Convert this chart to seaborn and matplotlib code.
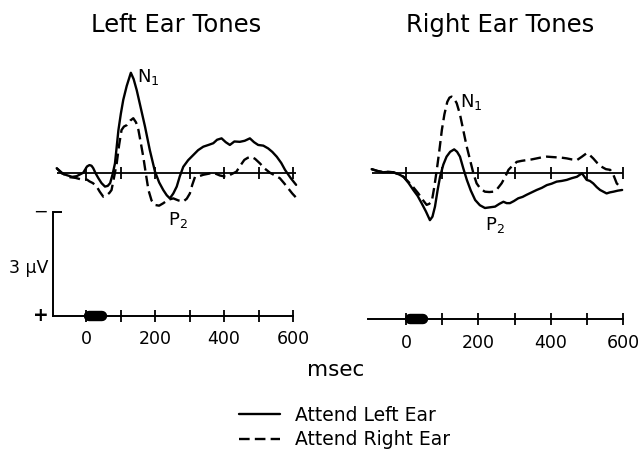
import matplotlib
matplotlib.use("Agg")
import matplotlib.pyplot as plt
import pandas as pd
import seaborn as sns

sns.set_theme(style="white")
plt.rcParams["font.family"] = ["DejaVu Sans"]
plt.rcParams["mathtext.fontset"] = "dejavusans"
plt.rcParams["text.color"] = "black"

# ---- ERP waveforms (microvolts, negative plotted upward) ----
CONDITIONS = ["Attend Left Ear", "Attend Right Ear"]
PANEL_TITLES = ["Left Ear Tones", "Right Ear Tones"]

left_t_attend_left = [-85, -70, -56, -40, -27, -8, 3, 10, 16, 21, 28, 36, 45, 55, 63,
                      70, 77, 84, 89, 94, 101, 108, 118, 130, 138, 147, 158, 171, 185, 200,
                      212, 224, 234, 243, 253, 263, 272, 282, 296, 311, 325, 340, 355, 369, 380,
                      393, 405, 417, 430, 446, 460, 475, 487, 499, 514, 528, 540, 553, 566, 577,
                      593, 609]
left_uv_attend_left = [-0.13, 0.02, 0.07, 0.12, 0.10, 0.0, -0.18, -0.22, -0.2, -0.13,
                       0.02, 0.16, 0.3, 0.4, 0.38, 0.3, 0.05, -0.27, -0.75, -1.23,
                       -1.7, -2.1, -2.5, -2.88, -2.7, -2.38, -1.9, -1.33, -0.65, -0.03,
                       0.28, 0.5, 0.65, 0.74, 0.6, 0.4, 0.1, -0.17, -0.36, -0.51,
                       -0.65, -0.75, -0.8, -0.85, -0.95, -0.99, -0.88, -0.8, -0.9, -0.89,
                       -0.92, -0.99, -0.88, -0.8, -0.78, -0.7, -0.6, -0.46, -0.28, -0.08,
                       0.15, 0.35]

left_t_attend_right = [-85, -70, -56, -46, -30, -8, 3, 10, 20, 31, 40, 50, 60, 68, 74,
                       80, 89, 96, 103, 110, 118, 128, 137, 145, 152, 159, 166, 173, 181, 190,
                       200, 212, 224, 238, 253, 268, 282, 292, 301, 308, 316, 328, 340, 355, 369,
                       388, 407, 420, 436, 447, 459, 469, 479, 490, 504, 518, 533, 548, 562, 574,
                       586, 598, 611]
left_uv_attend_right = [-0.13, 0.0, 0.1, 0.13, 0.15, 0.21, 0.2, 0.25, 0.3, 0.4,
                        0.55, 0.69, 0.65, 0.58, 0.5, 0.2, -0.27, -0.8, -1.23, -1.33,
                        -1.37, -1.5, -1.57, -1.45, -1.23, -0.85, -0.46, 0.0, 0.5, 0.8,
                        0.93, 0.95, 0.88, 0.78, 0.74, 0.8, 0.83, 0.75, 0.6, 0.35,
                        0.12, 0.1, 0.06, 0.03, 0.0, 0.08, 0.12, 0.05, -0.03, -0.2,
                        -0.37, -0.43, -0.46, -0.4, -0.27, -0.12, 0.0, 0.08, 0.16, 0.3,
                        0.45, 0.6, 0.74]

right_t_attend_left = [-95, -80, -63, -50, -35, -20, -7, 7, 20, 32, 43, 55, 66, 73, 80,
                       87, 94, 103, 112, 122, 133, 141, 149, 158, 168, 179, 191, 204, 218, 232,
                       246, 258, 269, 278, 287, 298, 310, 322, 333, 347, 361, 375, 389, 402, 416,
                       430, 444, 458, 472, 486, 499, 508, 517, 527, 536, 545, 554, 563, 573, 585,
                       597]
right_uv_attend_left = [-0.12, -0.07, -0.03, -0.04, -0.03, 0.03, 0.1, 0.28, 0.48, 0.65,
                        0.86, 1.1, 1.35, 1.25, 0.96, 0.5, 0.1, -0.25, -0.48, -0.62,
                        -0.69, -0.62, -0.48, -0.15, 0.19, 0.5, 0.77, 0.92, 1.0, 0.98,
                        0.96, 0.88, 0.82, 0.86, 0.86, 0.8, 0.72, 0.68, 0.62, 0.55,
                        0.48, 0.42, 0.34, 0.3, 0.24, 0.22, 0.19, 0.14, 0.1, 0.0,
                        0.19, 0.22, 0.29, 0.4, 0.48, 0.53, 0.58, 0.55, 0.53, 0.5,
                        0.48]

right_t_attend_right = [-95, -80, -63, -50, -35, -20, -7, 7, 20, 34, 45, 57, 64, 71, 78,
                        85, 92, 99, 106, 114, 120, 126, 133, 140, 149, 158, 167, 177, 186, 195,
                        206, 218, 230, 241, 252, 264, 274, 283, 294, 306, 320, 333, 347, 361, 375,
                        389, 402, 416, 430, 444, 458, 472, 486, 499, 508, 517, 528, 540, 552, 564,
                        573, 582, 592]
right_uv_attend_right = [-0.12, -0.07, -0.03, -0.04, -0.03, 0.03, 0.1, 0.25, 0.4, 0.58,
                         0.75, 0.91, 0.88, 0.82, 0.4, -0.1, -0.65, -1.25, -1.7, -2.06,
                         -2.18, -2.21, -2.15, -2.02, -1.7, -1.25, -0.8, -0.38, 0.0, 0.29,
                         0.45, 0.53, 0.54, 0.53, 0.45, 0.29, 0.1, -0.1, -0.22, -0.33,
                         -0.36, -0.38, -0.4, -0.43, -0.46, -0.48, -0.47, -0.46, -0.45, -0.43,
                         -0.4, -0.38, -0.48, -0.58, -0.52, -0.43, -0.3, -0.19, -0.12, -0.1,
                         0.05, 0.29, 0.4]

# time axis
time_ticks = [0, 100, 200, 300, 400, 500, 600]
time_labels = [0, 200, 400, 600]
tone_span = [10, 46]          # stimulus marker (ms)
calibration_uv = 3.0          # size of the amplitude calibration bar


def waveform_frame(t_a, v_a, t_b, v_b):
    parts = []
    for cond, t, v in zip(CONDITIONS, (t_a, t_b), (v_a, v_b)):
        parts.append(pd.DataFrame({"msec": t, "uV": v, "condition": cond}))
    return pd.concat(parts, ignore_index=True)


panels = [
    dict(df=waveform_frame(left_t_attend_left, left_uv_attend_left,
                           left_t_attend_right, left_uv_attend_right),
         rect=[51.5 / 642, 1 - 332.3 / 451, 248.4 / 642, 284.5 / 451],
         xlim=(-100, 620), axis_uv=4.13, axis_start=-95, base=(-85, 608),
         n1=(148, -2.62), p2=(238, 1.51)),
    dict(df=waveform_frame(right_t_attend_left, right_uv_attend_left,
                           right_t_attend_right, right_uv_attend_right),
         rect=[366.2 / 642, 1 - 332.9 / 451, 267.9 / 642, 284.5 / 451],
         xlim=(-110, 630), axis_uv=4.21, axis_start=-104, base=(-95, 600),
         n1=(149, -1.91), p2=(218, 1.63)),
]

dash_map = {"Attend Left Ear": "", "Attend Right Ear": (4.5, 2.2)}

fig = plt.figure(figsize=(6.42, 4.51), dpi=100)
fig.patch.set_facecolor("white")

axes = []
for i, p in enumerate(panels):
    ax = fig.add_axes(p["rect"])
    ax.set_facecolor("none")
    sns.lineplot(data=p["df"], x="msec", y="uV", style="condition",
                 style_order=CONDITIONS, dashes=dash_map, color="black",
                 linewidth=1.7, errorbar=None, sort=True, ax=ax,
                 legend=(i == 0))
    ax.set_xlim(*p["xlim"])
    ax.set_ylim(4.6, -3.6)   # negative up
    ax.set_xlabel("")
    ax.set_ylabel("")

    # zero baseline with 100 ms ticks
    ax.hlines(0, p["base"][0], p["base"][1], color="black", lw=1.3)
    ax.vlines(time_ticks, -0.17, 0.17, color="black", lw=1.3)

    # time axis drawn as the bottom spine
    for s in ("top", "right"):
        ax.spines[s].set_visible(False)
    sp = ax.spines["bottom"]
    sp.set_position(("data", p["axis_uv"]))
    sp.set_bounds(p["axis_start"], time_ticks[-1])
    sp.set_color("black")
    sp.set_linewidth(1.4)
    ax.set_xticks(time_labels)
    ax.set_xticks([t for t in time_ticks if t not in time_labels], minor=True)
    ax.tick_params(axis="x", which="both", bottom=True, direction="inout",
                   length=8.6, width=1.3, colors="black", labelsize=12.5, pad=6.0)
    ax.set_yticks([])

    # stimulus marker
    ax.plot(tone_span, [p["axis_uv"]] * 2, color="black", lw=7.5,
            solid_capstyle="round", clip_on=False)

    # component labels
    ax.text(p["n1"][0], p["n1"][1], "N$_1$", fontsize=13, ha="left",
            va="baseline", clip_on=False)
    ax.text(p["p2"][0], p["p2"][1], "P$_2$", fontsize=13, ha="left",
            va="baseline", clip_on=False)
    axes.append(ax)

# calibration bar on the left panel
ax_l, ax_r = axes
lsp = ax_l.spines["left"]
lsp.set_position(("data", panels[0]["axis_start"]))
lsp.set_bounds(panels[0]["axis_uv"] - calibration_uv, panels[0]["axis_uv"])
lsp.set_color("black")
lsp.set_linewidth(1.4)
ax_l.hlines(panels[0]["axis_uv"] - calibration_uv, panels[0]["axis_start"], -71,
            color="black", lw=1.4, clip_on=False)
ax_l.text(-133, panels[0]["axis_uv"] - calibration_uv, "\u2212", fontsize=12.5,
          ha="center", va="center", clip_on=False)
ax_l.text(-132, panels[0]["axis_uv"], "+", fontsize=13.5, fontweight="bold",
          ha="center", va="center", clip_on=False)
ax_l.text(-108, 2.76, "3 \u03bcV", fontsize=12.5, ha="right", va="center",
          clip_on=False)
ax_r.spines["left"].set_visible(False)

# titles and shared axis label
fig.text(176 / 642, 1 - 31.7 / 451, PANEL_TITLES[0], fontsize=17.5,
         ha="center", va="baseline")
fig.text(500 / 642, 1 - 31.7 / 451, PANEL_TITLES[1], fontsize=17.5,
         ha="center", va="baseline")
fig.text(336 / 642, 1 - 376 / 451, "msec", fontsize=15.5, ha="center",
         va="baseline")

# legend below the panels
handles, labels = ax_l.get_legend_handles_labels()
ax_l.get_legend().remove()
fig.legend(handles, labels, loc="upper left",
           bbox_to_anchor=(239 / 642, 1 - 406 / 451), frameon=False,
           fontsize=13.5, handlelength=2.2, handletextpad=0.8,
           labelspacing=0.28, borderpad=0, borderaxespad=0)

fig.savefig("out.png", dpi=100, facecolor="white")
